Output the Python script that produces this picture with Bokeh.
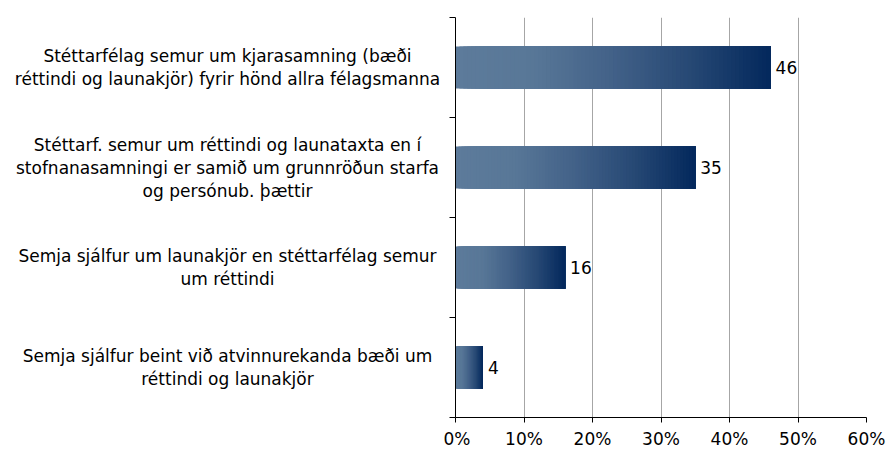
import numpy as np
from bokeh.plotting import figure
from bokeh.layouts import row
from bokeh.models import Range1d, FixedTicker, CustomJSTickFormatter
from bokeh.core.properties import value
from bokeh.embed import file_html
from bokeh.resources import INLINE

categories = [
    "Stéttarfélag semur um kjarasamning (bæði\nréttindi og launakjör) fyrir hönd allra félagsmanna",
    "Stéttarf. semur um réttindi og launataxta en í\nstofnanasamningi er samið um grunnröðun starfa\nog persónub. þættir",
    "Semja sjálfur um launakjör en stéttarfélag semur\num réttindi",
    "Semja sjálfur beint við atvinnurekanda bæði um\nréttindi og launakjör",
]
values = [46, 35, 16, 4]
x_ticks = [0, 10, 20, 30, 40, 50, 60]

FONT = "DejaVu Sans"
H = 454
TOP = 17
BOTTOM = 37
n = len(categories)
ypos = [n - i - 0.5 for i in range(n)]  # first category at top

# gradient stops (t, rgb)
stops = [(0.0, (93, 123, 155)), (0.25, (88, 119, 151)), (0.5, (66, 97, 136)),
         (0.75, (38, 72, 116)), (1.0, (3, 40, 92))]


def grad(t):
    for (t0, c0), (t1, c1) in zip(stops[:-1], stops[1:]):
        if t <= t1:
            f = (t - t0) / (t1 - t0)
            return "#%02x%02x%02x" % tuple(int(round(a + (b - a) * f)) for a, b in zip(c0, c1))
    return "#%02x%02x%02x" % stops[-1][1]


# ---- label panel (left) ----
LW = 443
lp = figure(width=LW, height=H, output_backend="svg", toolbar_location=None,
            x_range=Range1d(0, LW), y_range=Range1d(0, n),
            x_axis_location=None, y_axis_location=None,
            min_border_left=0, min_border_right=0, min_border_top=TOP, min_border_bottom=BOTTOM)
lp.outline_line_color = None
lp.grid.visible = False
lp.text(x=[227] * n, y=ypos, text=categories, text_align="center", text_baseline="middle",
        text_font=value(FONT), text_font_size="17px", text_color="#000000", text_line_height=1.15)

# ---- chart panel ----
p = figure(width=889 - LW, height=H, output_backend="svg", toolbar_location=None,
           x_range=Range1d(0, 60), y_range=Range1d(0, n),
           min_border_left=12, min_border_right=23, min_border_top=TOP, min_border_bottom=BOTTOM)
p.outline_line_color = None
p.ygrid.visible = False
p.xgrid.ticker = FixedTicker(ticks=x_ticks[1:])
p.xgrid.grid_line_color = "#a6a6a6"
p.xgrid.grid_line_width = 1

p.xaxis.ticker = FixedTicker(ticks=x_ticks)
p.xaxis.formatter = CustomJSTickFormatter(code="return tick + '%';")
p.xaxis.major_label_text_font = FONT
p.xaxis.major_label_text_font_size = "17px"
p.xaxis.major_label_text_color = "#000000"
p.xaxis.axis_line_color = "#000000"
p.xaxis.major_tick_line_color = "#000000"
p.xaxis.major_tick_out = 5
p.xaxis.major_tick_in = 0
p.xaxis.minor_tick_line_color = None
p.xaxis.major_label_standoff = 6

p.yaxis.ticker = FixedTicker(ticks=list(range(n + 1)))
p.yaxis.formatter = CustomJSTickFormatter(code="return '';")
p.yaxis.axis_line_color = "#000000"
p.yaxis.major_tick_line_color = "#000000"
p.yaxis.major_tick_out = 6
p.yaxis.major_tick_in = 0
p.yaxis.minor_tick_line_color = None
p.yaxis.major_label_standoff = 0

# gradient bars: overlapping slices, each from its start to the bar end
N = 80
BH = 0.42
for v, y in zip(values, ypos):
    lefts = [v * i / N for i in range(N)]
    cols = [grad((i + 0.5) / N) for i in range(N)]
    p.quad(left=lefts, right=[v] * N, bottom=[y - BH / 2] * N, top=[y + BH / 2] * N,
           fill_color=cols, line_color=None)

p.text(x=values, y=ypos, text=[str(v) for v in values], x_offset=5, text_align="left",
       text_baseline="middle", text_font=value(FONT), text_font_size="17px", text_color="#000000")

layout = row(lp, p, spacing=0)
open("out.html", "w").write(file_html(layout, INLINE))
